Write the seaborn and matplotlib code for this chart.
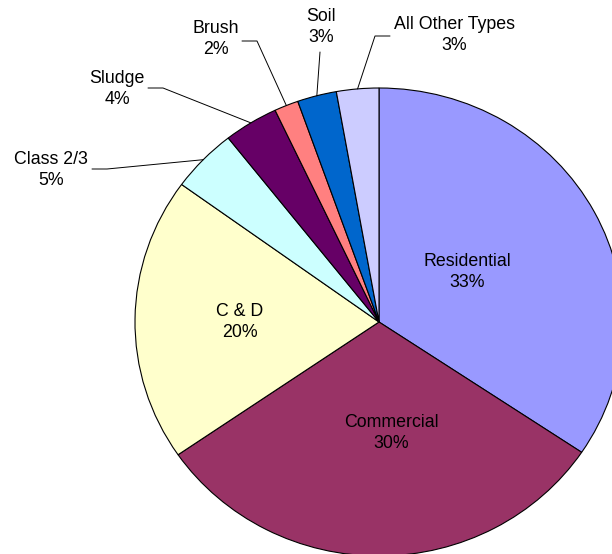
import numpy as np
import seaborn as sns
import matplotlib.pyplot as plt

# waste stream shares and the rounded labels shown
categories = ["Residential", "Commercial", "C & D", "Class 2/3",
              "Sludge", "Brush", "Soil", "All Other Types"]
shares = [34.4, 31.0, 19.6, 4.4, 3.6, 1.6, 2.6, 2.8]
pct_labels = ["33%", "30%", "20%", "5%", "4%", "2%", "3%", "3%"]
colors = ["#9999FF", "#993366", "#FFFFCC", "#CCFFFF",
          "#660066", "#FF8080", "#0066CC", "#CCCCFF"]

sns.set_style("white")
plt.rcParams["font.family"] = ["Liberation Sans", "DejaVu Sans"]

W, H = 612, 554
CX, CY, RX, RY = 379, 322, 244, 234  # pie centre / radii in image pixels


def px(x, y):
    # image pixel -> data coords (pie radius = 1)
    return (x - CX) / RX, (CY - y) / RY


fig = plt.figure(figsize=(W / 100, H / 100), dpi=100)
ax = fig.add_axes([0, 0, 1, 1])

wedges, _ = ax.pie(shares, colors=colors, startangle=90, counterclock=False,
                   wedgeprops=dict(edgecolor="black", linewidth=0.8))
ax.set_aspect("auto")
ax.set_xlim(-CX / RX, (W - CX) / RX)
ax.set_ylim(-(H - CY) / RY, CY / RY)
ax.axis("off")

# label layout: text centre, and stub points for the leader line (None = inside)
layout = {
    "Residential": ((467, 272), None),
    "Commercial": ((391, 433), None),
    "C & D": ((240, 322), None),
    "Class 2/3": ((51, 170), [(92, 169), (107, 169)]),
    "Sludge": ((117, 89), [(148, 88), (163, 88)]),
    "Brush": ((216, 39), [(242, 41), (257, 41)]),
    "Soil": ((321, 27), [(320, 52)]),
    "All Other Types": ((454, 35), [(390, 36), (375, 36)]),
}

for w, name, pct in zip(wedges, categories, pct_labels):
    (tx, ty), stub = layout[name]
    ax.text(*px(tx, ty), f"{name}\n{pct}", ha="center", va="center",
            fontsize=12.8, color="black", linespacing=1.32)
    if stub:
        mid = np.deg2rad((w.theta1 + w.theta2) / 2)
        pts = [px(*p) for p in stub] + [(np.cos(mid), np.sin(mid))]
        xs, ys = zip(*pts)
        ax.plot(xs, ys, color="black", linewidth=0.7)

fig.savefig("out.png", dpi=100)
